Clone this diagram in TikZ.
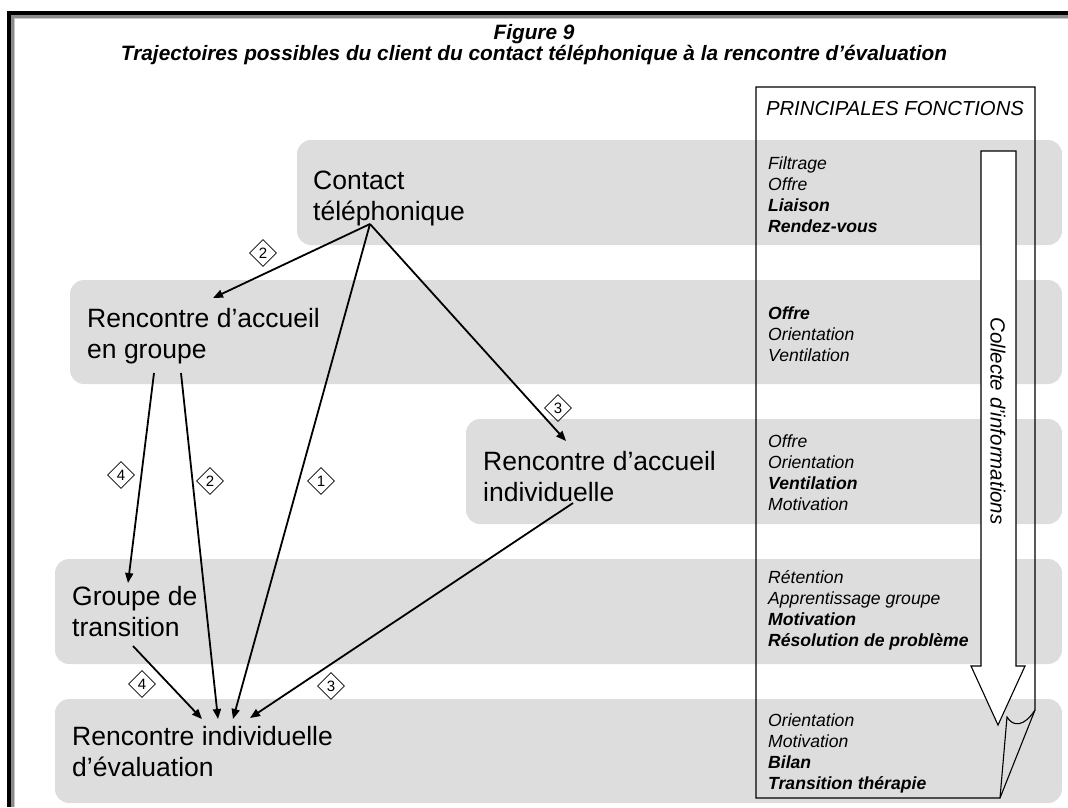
\documentclass[tikz,border=0pt]{standalone}
\usepackage{fontspec}
\setmainfont{Liberation Sans}
\usetikzlibrary{arrows.meta,shapes.geometric}
\definecolor{bandgray}{HTML}{DDDDDD}
\definecolor{framegray}{HTML}{8A8A8A}
\definecolor{framelight}{HTML}{C8C8C8}
\begin{document}
\begin{tikzpicture}[x=1pt,y=-1pt,
  band/.style={fill=bandgray, rounded corners=14pt},
  % multi-line nodes are placed by the baseline of their last line
  stagetext/.style={anchor=base west, align=left, inner sep=0pt,
    font=\fontsize{26.5pt}{31.5pt}\selectfont},
  functext/.style={anchor=base west, align=left, inner sep=0pt,
    font=\fontsize{17.6pt}{21.3pt}\selectfont\itshape},
  flow/.style={line width=1.8pt, -{Triangle[length=10pt,width=8pt]}},
  tag/.style={diamond, draw, line width=0.8pt, inner sep=0pt,
    minimum width=27pt, minimum height=27pt,
    font=\fontsize{15pt}{15pt}\selectfont},
  colline/.style={line width=1.1pt}
]
\useasboundingbox (0,0) rectangle (1068,807);

% shadowed page frame
\fill[black] (7,11) rectangle (1068,15);
\fill[black] (7,11) rectangle (11,807);
\fill[framegray] (11,15) rectangle (1068,18);
\fill[framegray] (11,15) rectangle (14,807);
\fill[framelight] (14,18) rectangle (1068,19);
\fill[framelight] (14,18) rectangle (15,807);

% title
\node[anchor=base, inner sep=0pt, font=\fontsize{20.8pt}{24pt}\selectfont\bfseries\itshape]
  (fig) at (534,39) {Figure 9};
\node[anchor=base, inner sep=0pt, font=\fontsize{20.8pt}{24pt}\selectfont\bfseries\itshape]
  (title) at (534,60) {Trajectoires possibles du client du contact téléphonique à la rencontre d’évaluation};

% grey stage bands
\fill[band] (297,140) rectangle (1062,245);
\fill[band] (70,280) rectangle (1062,384);
\fill[band] (466,419) rectangle (1062,524);
\fill[band] (55,559) rectangle (1062,664);
\fill[band] (55,699) rectangle (1062,803);

% functions column with folded corner
\draw[colline] (756,87) -- (1035,87) -- (1035,710) -- (1000,798) -- (756,798) -- cycle;
\draw[colline] (1000,798) -- (1007,717) .. controls (1013,727) and (1024,727) .. (1035,710);
\node[anchor=base, inner sep=0pt, font=\fontsize{20.3pt}{24pt}\selectfont\itshape]
  (princ) at (895,115) {PRINCIPALES FONCTIONS};

% information-gathering arrow
\draw[colline, fill=white] (981,151) -- (1016,151) -- (1016,666) -- (1025,666)
  -- (998,725) -- (971,666) -- (981,666) -- cycle;
\node[rotate=-90, inner sep=0pt, font=\fontsize{20.5pt}{24pt}\selectfont\itshape]
  (collecte) at (998,421) {Collecte d’informations};

% stage names
\node[stagetext] (contact) at (313,220.5) {Contact\\téléphonique};
\node[stagetext] (groupe) at (87,358.5) {Rencontre d’accueil\\en groupe};
\node[stagetext] (indiv) at (483,501.5) {Rencontre d’accueil\\individuelle};
\node[stagetext] (transit) at (72,636.5) {Groupe de\\transition};
\node[stagetext] (eval) at (72,776.5) {Rencontre individuelle\\d’évaluation};

% function lists
\node[functext] (f1) at (768,232.9) {Filtrage\\Offre\\\textbf{Liaison}\\\textbf{Rendez-vous}};
\node[functext] (f2) at (768,361.6) {\textbf{Offre}\\Orientation\\Ventilation};
\node[functext] (f3) at (768,510.9) {Offre\\Orientation\\\textbf{Ventilation}\\Motivation};
\node[functext] (f4) at (768,646.9) {Rétention\\Apprentissage groupe\\\textbf{Motivation}\\\textbf{Résolution de problème}};
\node[functext] (f5) at (768,789.9) {Orientation\\Motivation\\\textbf{Bilan}\\\textbf{Transition thérapie}};

% connector ends
\coordinate (contactOut) at (370,224);
\coordinate (groupeIn) at (213,298);
\coordinate (groupeOutA) at (154,373);
\coordinate (groupeOutB) at (181,373);
\coordinate (indivIn) at (566,441);
\coordinate (indivOut) at (573,503);
\coordinate (transitIn) at (128,583);
\coordinate (transitOut) at (133,646);
\coordinate (evalInA) at (202,719);
\coordinate (evalInB) at (218,719);
\coordinate (evalInC) at (233,719);
\coordinate (evalInD) at (250,718);

% trajectories
\draw[flow] (contactOut) -- (groupeIn);
\draw[flow] (contactOut) -- (evalInC);
\draw[flow] (contactOut) -- (indivIn);
\draw[flow] (groupeOutA) -- (transitIn);
\draw[flow] (groupeOutB) -- (evalInB);
\draw[flow] (indivOut) -- (evalInD);
\draw[flow] (transitOut) -- (evalInA);

% trajectory numbers
\node[tag] (t2a) at (263,253) {2};
\node[tag] (t4a) at (121,475) {4};
\node[tag] (t2b) at (210,481) {2};
\node[tag] (t1) at (321,481) {1};
\node[tag] (t3a) at (558,408) {3};
\node[tag] (t4b) at (142,684) {4};
\node[tag] (t3b) at (331,686) {3};
\end{tikzpicture}
\end{document}
